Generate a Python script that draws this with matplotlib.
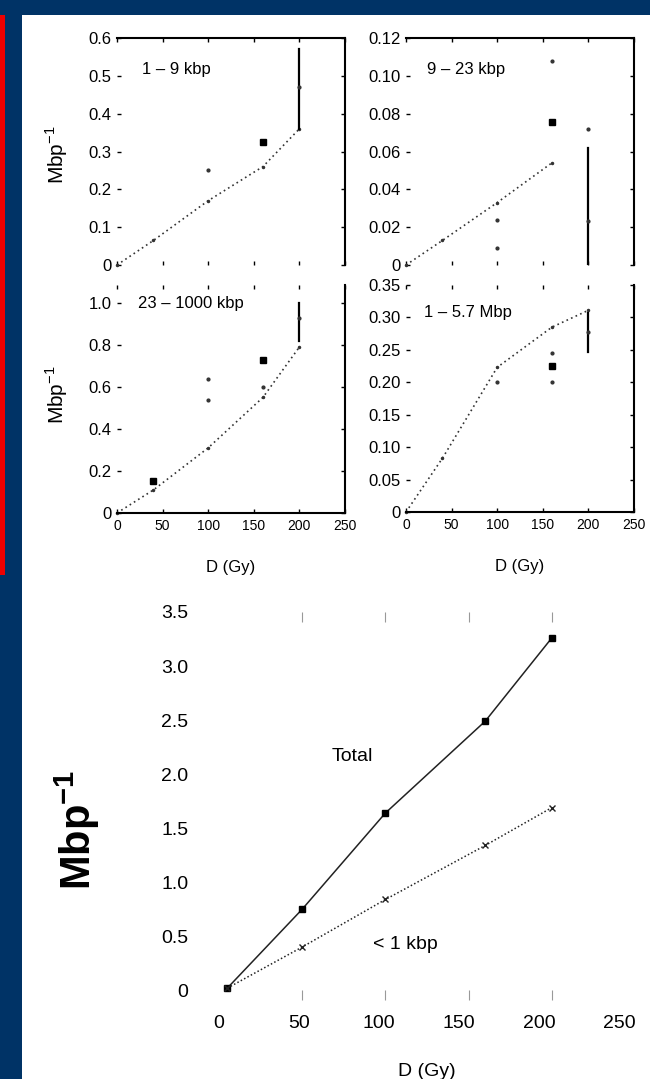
import numpy as np
import matplotlib
matplotlib.use("Agg")
import matplotlib.pyplot as plt
from matplotlib.patches import Rectangle

plt.rcParams['font.family'] = ['Liberation Sans', 'DejaVu Sans']

# ---- data ----
dose = [0, 40, 100, 160, 200]
dose_total = [5, 50, 100, 160, 200]

# 1 - 9 kbp
tl_line_y = [0, 0.065, 0.17, 0.26, 0.36]
tl_bar = [0.36, 0.57]
tl_pts_x = [100, 200]
tl_pts_y = [0.25, 0.47]
tl_sq_x = [160]
tl_sq_y = [0.325]

# 9 - 23 kbp
tr_line_x = [0, 40, 100, 160]
tr_line_y = [0, 0.013, 0.033, 0.054]
tr_bar = [0, 0.062]
tr_pts_x = [160, 100, 100, 200, 200]
tr_pts_y = [0.108, 0.024, 0.009, 0.023, 0.072]
tr_sq_x = [160]
tr_sq_y = [0.0756]

# 23 - 1000 kbp
bl_line_y = [0, 0.11, 0.31, 0.55, 0.79]
bl_bar = [0.82, 1.0]
bl_pts_x = [100, 100, 160, 200]
bl_pts_y = [0.64, 0.54, 0.60, 0.93]
bl_sq_x = [40, 160]
bl_sq_y = [0.15, 0.73]

# 1 - 5.7 Mbp
br_line_y = [0, 0.083, 0.223, 0.285, 0.311]
br_bar = [0.247, 0.307]
br_pts_x = [100, 160, 160, 200]
br_pts_y = [0.20, 0.245, 0.20, 0.277]
br_sq_x = [160]
br_sq_y = [0.225]

# big chart
total_y = [0.02, 0.75, 1.64, 2.49, 3.26]
small_y = [0.02, 0.40, 0.84, 1.34, 1.69]
gy_labels = ['0', '50', '100', '150', '200', '250']

W, H = 650, 1079
fig = plt.figure(figsize=(W / 100, H / 100), dpi=100)
fig.patch.set_facecolor('#003366')
fig.patches.append(Rectangle((22 / W, 0), 1 - 22 / W, 1 - 15 / H,
                             transform=fig.transFigure, facecolor='white',
                             edgecolor='none', zorder=-10))
fig.patches.append(Rectangle((0, 1 - 575 / H), 5 / W, 560 / H,
                             transform=fig.transFigure, facecolor='#ee0000',
                             edgecolor='none', zorder=-10))


def px_axes(x0, y0, x1, y1):
    return fig.add_axes([x0 / W, 1 - y1 / H, (x1 - x0) / W, (y1 - y0) / H])


def small_panel(ax, ymax, yticks, ylabels, show_x, spines_on):
    ax.set_xlim(0, 250)
    ax.set_ylim(0, ymax)
    ax.set_yticks(yticks)
    ax.set_yticklabels(ylabels, fontsize=12)
    ax.set_xticks([0, 50, 100, 150, 200, 250])
    if show_x:
        ax.set_xticklabels(gy_labels, fontsize=10)
    else:
        ax.set_xticklabels([])
    ax.tick_params(direction='in', length=3, width=1, pad=4, top=True, right=True)
    for s in ['top', 'bottom', 'left', 'right']:
        ax.spines[s].set_visible(s in spines_on)
        ax.spines[s].set_linewidth(1.5)
    ax.patch.set_alpha(0)


def draw_series(ax, lx, ly, bar, px, py, sx, sy):
    ax.plot(lx, ly, color='#333333', lw=1.2, ls=(0, (1, 2)), marker='.', ms=3,
            clip_on=False)
    ax.plot([200, 200], bar, color='black', lw=1.6)
    ax.plot(px, py, ls='none', marker='.', ms=4, color='#333333')
    ax.plot(sx, sy, ls='none', marker='s', ms=4, color='black')


ax1 = px_axes(117, 38, 345, 265)
small_panel(ax1, 0.6, np.arange(0, 0.61, 0.1),
            ['0', '0.1', '0.2', '0.3', '0.4', '0.5', '0.6'], False, ['top', 'right'])
draw_series(ax1, dose, tl_line_y, tl_bar, tl_pts_x, tl_pts_y, tl_sq_x, tl_sq_y)
ax1.text(0.11, 0.86, '1 \u2013 9 kbp', transform=ax1.transAxes, fontsize=12, va='center')

ax2 = px_axes(406, 38, 634, 265)
small_panel(ax2, 0.12, np.arange(0, 0.121, 0.02),
            ['0', '0.02', '0.04', '0.06', '0.08', '0.10', '0.12'], False, ['top', 'right'])
draw_series(ax2, tr_line_x, tr_line_y, tr_bar, tr_pts_x, tr_pts_y, tr_sq_x, tr_sq_y)
ax2.text(0.09, 0.86, '9 \u2013 23 kbp', transform=ax2.transAxes, fontsize=12, va='center')

ax3 = px_axes(117, 285, 345, 513)
small_panel(ax3, 1.085, np.arange(0, 1.01, 0.2),
            ['0', '0.2', '0.4', '0.6', '0.8', '1.0'], True, ['bottom', 'right'])
draw_series(ax3, dose, bl_line_y, bl_bar, bl_pts_x, bl_pts_y, bl_sq_x, bl_sq_y)
ax3.text(0.09, 0.92, '23 \u2013 1000 kbp', transform=ax3.transAxes, fontsize=12, va='center')

ax4 = px_axes(406, 285, 634, 512)
small_panel(ax4, 0.35, np.arange(0, 0.351, 0.05),
            ['0', '0.05', '0.10', '0.15', '0.20', '0.25', '0.30', '0.35'], True,
            ['bottom', 'right'])
draw_series(ax4, dose, br_line_y, br_bar, br_pts_x, br_pts_y, br_sq_x, br_sq_y)
ax4.text(0.08, 0.88, '1 \u2013 5.7 Mbp', transform=ax4.transAxes, fontsize=12, va='center')

for ax in (ax3, ax4):
    ax.set_xlabel('D (Gy)', fontsize=12)
    ax.xaxis.set_label_coords(0.5, -(560 - 513) / 228)

for yc in (155, 395):
    fig.text(57 / W, 1 - yc / H, 'Mbp$^{\\mathregular{-1}}$', rotation=90,
             fontsize=15, ha='center', va='center')

# ---- big chart ----
ax5 = px_axes(219, 612, 635, 1000)
ax5.set_xlim(0, 250)
ax5.set_ylim(-0.09, 3.5)
ax5.plot(dose_total, total_y, color='#222222', lw=1.1, marker='s', ms=5,
         mfc='black', mec='black')
ax5.plot(dose_total, small_y, color='#222222', lw=1.1, ls=(0, (1, 1.5)),
         marker='x', ms=5, mew=1)
ax5.text(80, 2.16, 'Total', fontsize=14, ha='center', va='center')
ax5.text(112, 0.42, '< 1 kbp', fontsize=14, ha='center', va='center')

ax5.set_yticks(np.arange(0, 3.51, 0.5))
ax5.set_yticklabels(['0', '0.5', '1.0', '1.5', '2.0', '2.5', '3.0', '3.5'], fontsize=14)
ax5.set_yticks([1, 2, 3], minor=True)
ax5.tick_params(axis='y', which='major', length=0, pad=22)
ax5.tick_params(axis='y', which='minor', length=7, direction='in', left=True,
                right=True, color='#999999')
# tick marks at the dose steps; the printed labels sit on a slightly
# compressed scale in the original, so they go on a secondary axis
ax5.set_xticks([50, 100, 150, 200])
ax5.set_xticklabels([])
ax5.tick_params(axis='x', length=7, direction='in', top=True, color='#999999')
lab = ax5.secondary_xaxis('bottom', functions=(lambda x: x * 260 / 250,
                                               lambda x: x * 250 / 260))
lab.set_xticks([0, 50, 100, 150, 200, 250])
lab.set_xticklabels(gy_labels, fontsize=14)
lab.tick_params(length=0, pad=11)
lab.spines['bottom'].set_visible(False)
for s in ax5.spines.values():
    s.set_visible(False)
ax5.patch.set_alpha(0)
lab.set_xlabel('D (Gy)', fontsize=14, labelpad=22)

fig.text(77 / W, 1 - 830 / H, 'Mbp$^{\\mathregular{-1}}$', rotation=90,
         fontsize=30, fontweight='bold', ha='center', va='center')

fig.savefig('out.png', dpi=100, facecolor=fig.get_facecolor())
